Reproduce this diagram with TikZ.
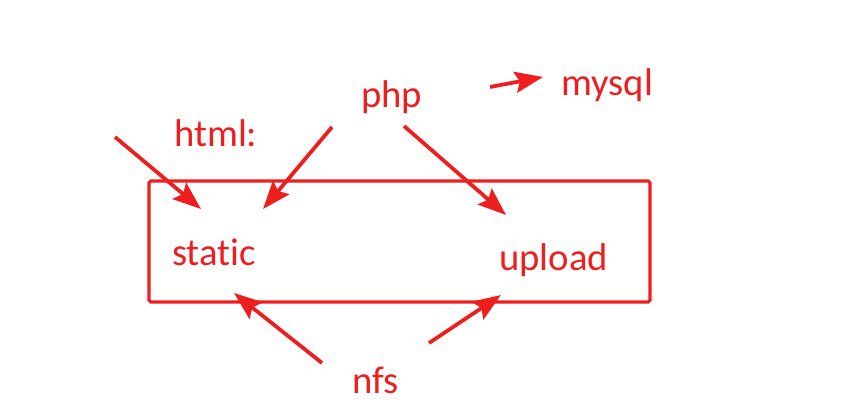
\documentclass[tikz,border=0pt]{standalone}
\usepackage{fontspec}
\setmainfont{Carlito}[Ligatures=NoCommon]
\usepackage{tikz}
\usetikzlibrary{arrows.meta,calc}
\definecolor{inkred}{RGB}{238,30,30}

\begin{document}
\begin{tikzpicture}[x=0.03cm, y=-0.03cm,
    lbl/.style={anchor=base west, inner sep=0pt, text=inkred, font=\fontsize{33pt}{40pt}\selectfont},
    fatarrow/.style={draw=inkred, line width=3.2pt, -{Stealth[length=24pt, width=18pt, inset=4pt]}}]
    \useasboundingbox (0,0) rectangle (852,419);
    \draw[inkred, line width=2.6pt, rounded corners=1.5pt] (149,181) rectangle (650,302);
    \node[lbl] (html) at (174,146) {html:};
    \node[lbl] (php) at (361,107) {php};
    \node[lbl] (mysql) at (561,95) {mysql};
    \node[lbl] (static) at (172,265) {static};
    \node[lbl] (upload) at (499,270) {upload};
    \node[lbl] (nfs) at (352,393) {nfs};
    \coordinate (html_tail) at (115,137); \coordinate (html_tip) at (201,209);
    \coordinate (php_tail1) at (332,127); \coordinate (php_tip1) at (263,209);
    \coordinate (php_tail2) at (404,126); \coordinate (php_tip2) at (506,215);
    \coordinate (mysql_tail) at (490,87); \coordinate (mysql_tip) at (543,77);
    \coordinate (nfs_tail1) at (322,363); \coordinate (nfs_tip1) at (234,293);
    \coordinate (nfs_tail2) at (429,343); \coordinate (nfs_tip2) at (501,295);
    \draw[fatarrow] (html_tail) -- (html_tip);
    \draw[fatarrow] (php_tail1) -- (php_tip1);
    \draw[fatarrow] (php_tail2) -- (php_tip2);
    \draw[fatarrow] (mysql_tail) -- (mysql_tip);
    \draw[fatarrow] (nfs_tail1) -- (nfs_tip1);
    \draw[fatarrow] (nfs_tail2) -- (nfs_tip2);
\end{tikzpicture}
\end{document}
